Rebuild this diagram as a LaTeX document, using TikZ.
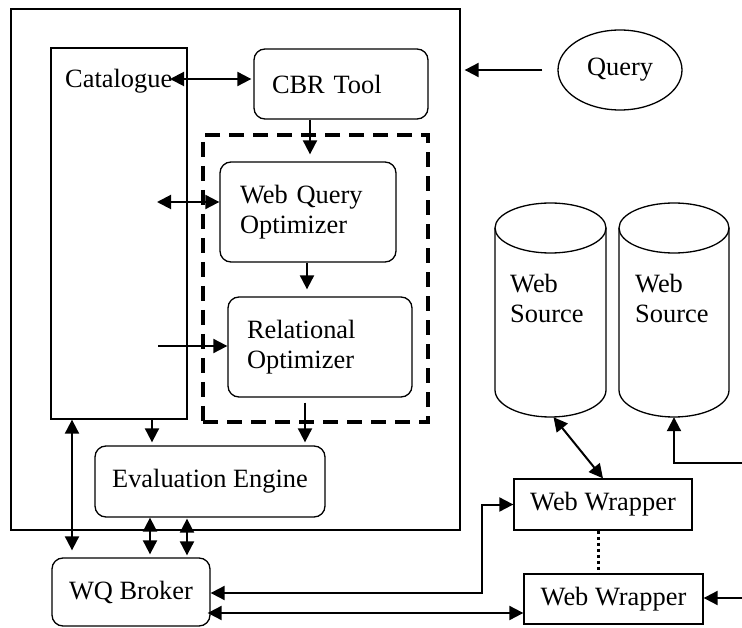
\documentclass[tikz,border=0pt]{standalone}
\usepackage{fontspec}
\setmainfont{Liberation Serif}
\usetikzlibrary{arrows.meta, shapes.geometric}

\begin{document}
\begin{tikzpicture}[x=1pt, y=-1pt,
  font=\fontsize{26.4}{30}\selectfont,
  plainbox/.style={draw, line width=1.3pt, inner sep=0pt},
  roundbox/.style={plainbox, rounded corners=11pt},
  optgroup/.style={draw, line width=4pt, dash pattern=on 15pt off 9pt, inner sep=0pt},
  conn/.style={line width=2pt, -{Triangle[length=14pt, width=14pt]}},
  bconn/.style={line width=2pt, {Triangle[length=14pt, width=14pt]}-{Triangle[length=14pt, width=14pt]}},
  dbline/.style={line width=1.3pt},
]
\useasboundingbox (0,0) rectangle (742,628);
\fill[white] (0,0) rectangle (742,628);

% system frame and its components
\node[plainbox, minimum width=449pt, minimum height=521pt] (system) at (235.5,269.5) {};
\node[plainbox, minimum width=136pt, minimum height=371pt] (catalogue) at (119,233.5) {};
\node[anchor=base west, inner sep=0pt] (cattext) at (65,88) {Catalogue};
\node[roundbox, minimum width=174pt, minimum height=70pt, text width=138pt, align=left] (cbr) at (341,84) {CBR Tool};
\node[optgroup, minimum width=225pt, minimum height=287pt] (opt) at (315.5,278.5) {};
\node[roundbox, minimum width=176pt, minimum height=100pt, text width=136pt, align=left] (wqo) at (308,212) {Web Query\\Optimizer};
\node[roundbox, minimum width=184pt, minimum height=100pt, text width=146pt, align=left] (ro) at (320,347) {Relational\\Optimizer};
\node[roundbox, minimum width=230pt, minimum height=71pt] (ee) at (210,481.5) {Evaluation Engine};
\node[roundbox, minimum width=158pt, minimum height=68pt] (broker) at (131,592) {WQ Broker};

% query
\node[ellipse, draw, line width=1.3pt, minimum width=124pt, minimum height=80pt, inner sep=0pt] (query) at (620,70) {Query};

% web sources (cylinders)
\node[inner sep=0pt, minimum width=111pt, minimum height=214pt] (src1) at (550.5,310) {};
\node[inner sep=0pt, minimum width=110pt, minimum height=214pt] (src2) at (674,310) {};
\draw[dbline] (550.5,228) ellipse [x radius=55.5, y radius=25];
\draw[dbline] (495,228) -- (495,390) arc[start angle=180, end angle=0, x radius=55.5, y radius=27] -- (606,228);
\draw[dbline] (674,228) ellipse [x radius=55, y radius=25];
\draw[dbline] (619,228) -- (619,390) arc[start angle=180, end angle=0, x radius=55, y radius=27] -- (729,228);
\node[anchor=west, inner sep=0pt, align=left] at (510,298) {Web\\Source};
\node[anchor=west, inner sep=0pt, align=left] at (635,298) {Web\\Source};

% wrappers
\node[plainbox, minimum width=178pt, minimum height=51pt] (ww1) at (603,504.5) {Web Wrapper};
\node[plainbox, minimum width=179pt, minimum height=50pt] (ww2) at (613.5,599) {Web Wrapper};

% free ends
\coordinate (catcbr) at (170,79);
\coordinate (catwqo) at (157,202);
\coordinate (catro) at (158,346);
\coordinate (edge1) at (742,463);
\coordinate (edge2) at (742,598);
\coordinate (brokerlow) at ([yshift=-21pt]broker.east);

% connectors
\draw[bconn, shorten >=2pt] (catcbr) -- (cbr.west |- catcbr);
\draw[conn, shorten >=7pt] ([xshift=-31pt]cbr.south) -- ([xshift=-31pt]cbr.south |- wqo.north);
\draw[bconn] (catwqo) -- (wqo.west |- catwqo);
\draw[conn, shorten >=7pt] ([xshift=-1pt]wqo.south) -- ([xshift=-1pt]wqo.south |- ro.north);
\draw[conn] (catro) -- (ro.west |- catro);
\draw[conn, shorten >=3pt] ([xshift=33pt]catalogue.south) -- ([xshift=33pt]catalogue.south |- ee.north);
\draw[conn, shorten <=5pt, shorten >=3pt] ([xshift=-15pt]ro.south) -- ([xshift=-15pt]ro.south |- ee.north);
\draw[bconn, shorten >=7pt] ([xshift=-47pt]catalogue.south) -- ([xshift=-47pt]catalogue.south |- broker.north);
\draw[bconn, shorten >=3pt] ([xshift=-60pt]ee.south) -- ([xshift=-60pt]ee.south |- broker.north);
\draw[bconn, shorten <=1pt, shorten >=2pt] ([xshift=-23pt]ee.south) -- ([xshift=-23pt]ee.south |- broker.north);
\draw[conn, shorten <=15pt, shorten >=4pt] (query.west) -- (system.east |- query.west);
\draw[bconn] ([xshift=3pt]src1.south) -- (ww1.north);
\draw[conn] (edge1) -| (src2.south);
\draw[conn] (edge2) -- (ww2.east |- edge2);
\draw[bconn] ([yshift=-1pt]broker.east) -| ([xshift=-31pt]ww1.west) -- (ww1.west);
\draw[bconn, shorten <=-3pt] (brokerlow) -- (ww2.west |- brokerlow);
\draw[line width=3pt, dash pattern=on 3pt off 3pt] ([xshift=-5pt]ww1.south) -- ([xshift=-5pt]ww1.south |- ww2.north);
\end{tikzpicture}
\end{document}
